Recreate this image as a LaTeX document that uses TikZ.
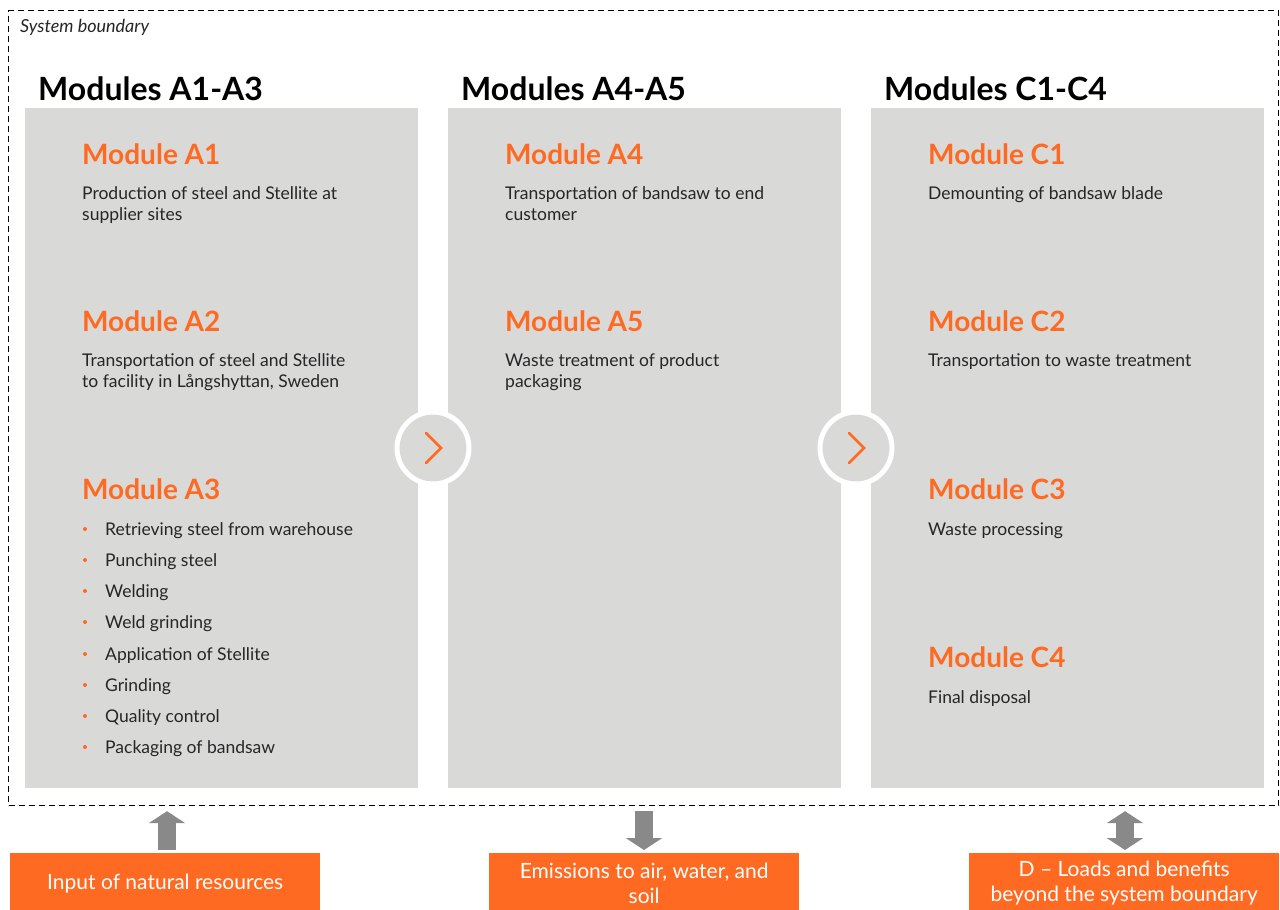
\documentclass[tikz,border=0pt]{standalone}
\usepackage{fontspec}
\setmainfont{Lato}
\usetikzlibrary{arrows.meta}
\definecolor{panelA} {RGB}{217, 217, 216}
\definecolor{orangeA}{RGB}{255, 106, 34}
\definecolor{greyA}  {RGB}{137, 137, 137}
\definecolor{textA}  {RGB}{38,  38,  38}

\tikzset{
  panel/.style={fill=panelA, draw=none, minimum width=393, minimum height=680, anchor=north west, inner sep=0pt},
  heading/.style={anchor=base west, inner sep=0pt, font=\fontsize{32}{36}\selectfont\bfseries},
  modtitle/.style={anchor=base west, inner sep=0pt, text=orangeA, font=\fontsize{28}{32}\selectfont\bfseries},
  body/.style={anchor=base west, align=left, inner sep=0pt, text=textA, font=\fontsize{17.5}{21}\selectfont},
  dot/.style={circle, fill=orangeA, inner sep=0pt, minimum size=4},
  nextstep/.style={circle, fill=panelA, draw=white, line width=5, minimum size=72, inner sep=0pt},
  chevron/.style={draw=orangeA, line width=2.6, line cap=round},
  outbox/.style={fill=orangeA, text=white, minimum width=310, minimum height=60, anchor=north west,
    inner sep=0pt, align=center, font=\fontsize{21}{25}\selectfont},
  flow/.style={greyA, line width=18},
}

\begin{document}
\begin{tikzpicture}[x=1pt, y=-1pt]
  \useasboundingbox (0,0) rectangle (1280,910);

  % system boundary
  \node[draw, dashed, dash pattern=on 6pt off 4pt, line width=1.2, minimum width=1270, minimum height=795,
    anchor=north west, inner sep=0pt] (boundary) at (8,10) {};
  \node[anchor=base west, inner sep=0pt, text=textA, font=\fontsize{18}{20}\selectfont\itshape] (sysname) at (20,32) {System boundary};

  % panels
  \node[panel] (panelA) at (25,108)  {};
  \node[panel] (panelB) at (448,108) {};
  \node[panel] (panelC) at (871,108) {};

  \node[heading] (headA) at (38,100)  {Modules A1-A3};
  \node[heading] (headB) at (461,100) {Modules A4-A5};
  \node[heading] (headC) at (884,100) {Modules C1-C4};

  % modules A1-A3 (two-line texts sit on their last baseline)
  \node[modtitle] (modA1) at (82,164) {Module A1};
  \node[body]     (txtA1) at (82,220) {Production of steel and Stellite at\\supplier sites};
  \node[modtitle] (modA2) at (82,331) {Module A2};
  \node[body]     (txtA2) at (82,387) {Transportation of steel and Stellite\\to facility in Långshyttan, Sweden};
  \node[modtitle] (modA3) at (82,499) {Module A3};
  \foreach \y/\step [count=\i] in {535/Retrieving steel from warehouse, 566/Punching steel, 597/Welding,
      628/Weld grinding, 660/Application of Stellite, 691/Grinding, 722/Quality control, 753/Packaging of bandsaw} {
    \node[dot]  (dotA\i)  at (85,\y-6) {};
    \node[body] (itemA\i) at (105,\y) {\step};
  }

  % modules A4-A5
  \node[modtitle] (modA4) at (505,164) {Module A4};
  \node[body]     (txtA4) at (505,220) {Transportation of bandsaw to end\\customer};
  \node[modtitle] (modA5) at (505,331) {Module A5};
  \node[body]     (txtA5) at (505,387) {Waste treatment of product\\packaging};

  % modules C1-C4
  \node[modtitle] (modC1) at (928,164) {Module C1};
  \node[body]     (txtC1) at (928,199) {Demounting of bandsaw blade};
  \node[modtitle] (modC2) at (928,331) {Module C2};
  \node[body]     (txtC2) at (928,366) {Transportation to waste treatment};
  \node[modtitle] (modC3) at (928,499) {Module C3};
  \node[body]     (txtC3) at (928,535) {Waste processing};
  \node[modtitle] (modC4) at (928,667) {Module C4};
  \node[body]     (txtC4) at (928,703) {Final disposal};

  % steps between the panels
  \node[nextstep] (nextA) at (433,448) {};
  \node[nextstep] (nextB) at (856,448) {};
  \draw[chevron] ([shift={(-7,-15)}]nextA.center) -- ++(15,15) -- ++(-15,15);
  \draw[chevron] ([shift={(-7,-15)}]nextB.center) -- ++(15,15) -- ++(-15,15);

  % flows across the boundary
  \node[outbox] (input)   at (10,853)  {Input of natural resources};
  \node[outbox] (emit)    at (489,853) {Emissions to air, water, and\\soil};
  \node[outbox] (beyond)  at (969,853) {D – Loads and benefits\\beyond the system boundary};

  \coordinate (inputTop)  at ([yshift=3]input.north -| 167,0);
  \coordinate (emitTop)   at ([yshift=3]emit.north -| 644,0);
  \coordinate (beyondTop) at ([yshift=3]beyond.north -| 1125,0);

  \draw[flow, -{Triangle[width=36, length=12]}]  (inputTop) -- ([yshift=-5]inputTop |- boundary.south);
  \draw[flow, -{Triangle[width=36, length=12]}]  ([yshift=-5]emitTop |- boundary.south) -- (emitTop);
  \draw[flow, {Triangle[width=36, length=12]}-{Triangle[width=36, length=12]}]
    ([yshift=-5]beyondTop |- boundary.south) -- (beyondTop);
\end{tikzpicture}
\end{document}
